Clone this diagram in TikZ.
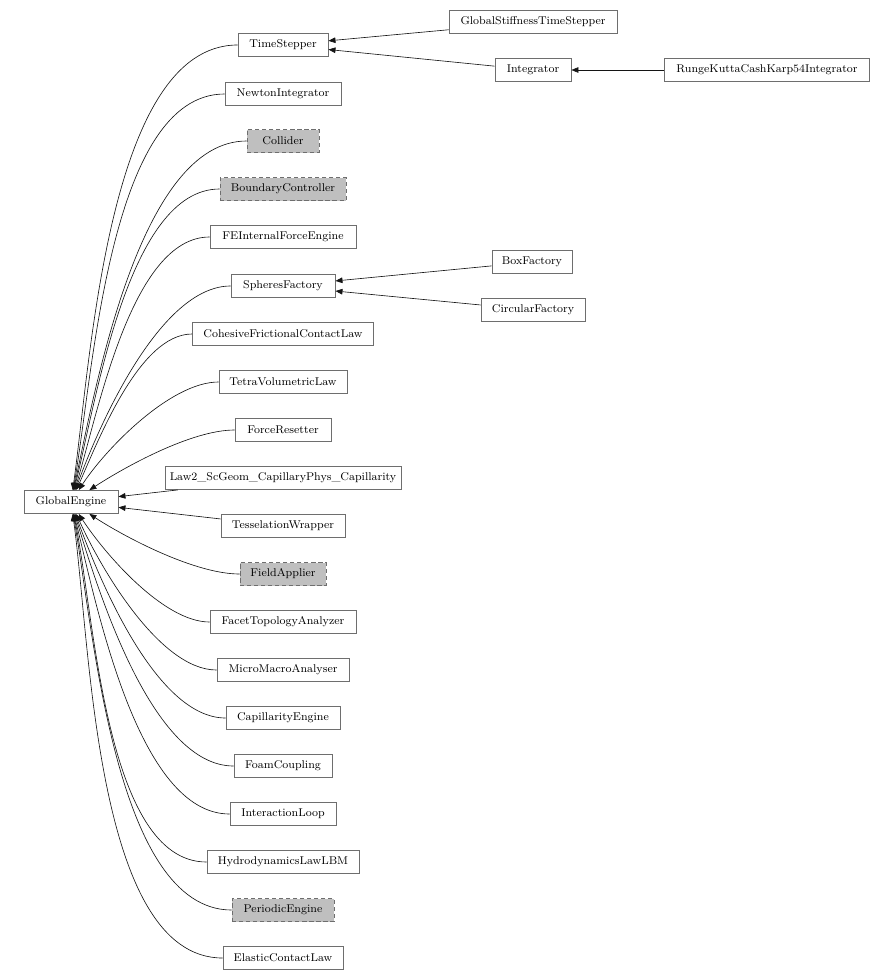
\documentclass[tikz,border=0pt]{standalone}
\usepackage{tikz}
\usetikzlibrary{arrows.meta}
\definecolor{boxcol}{RGB}{110,110,110}
\definecolor{absfill}{RGB}{191,191,191}
\definecolor{edgecol}{RGB}{20,20,20}

\begin{document}
\begin{tikzpicture}[
    x=0.025cm, y=0.025cm,
    cls/.style={draw=boxcol, fill=white, line width=0.6pt, minimum height=0.575cm,
        inner sep=0pt, font=\fontsize{8}{10}\selectfont},
    virt/.style={cls, fill=absfill, dash pattern=on 3pt off 2pt},
    arr/.style={-{Triangle[length=5pt, width=4pt]}, line width=0.45pt, draw=edgecol, looseness=0.7},
]

\path[use as bounding box] (0,0) rectangle (895,-980);

% ════════════════════════════════════════════════════════
% 1. BASE CLASS
% ════════════════════════════════════════════════════════
\node[cls, minimum width=2.35cm] (engine) at (71,-502) {GlobalEngine};

% ════════════════════════════════════════════════════════
% 2. DIRECT SUBCLASSES (one column, 48px apart)
% ════════════════════════════════════════════════════════
\node[cls,  minimum width=2.25cm]  (timestepper) at (283,-45)  {TimeStepper};
\node[cls,  minimum width=2.9cm]   (newton)      at (283,-94)  {NewtonIntegrator};
\node[virt, minimum width=1.8cm]   (collider)    at (283,-141) {Collider};
\node[virt, minimum width=3.15cm]  (boundary)    at (283,-189) {BoundaryController};
\node[cls,  minimum width=3.65cm]  (feinternal)  at (283,-237) {FEInternalForceEngine};
\node[cls,  minimum width=2.6cm]   (spheres)     at (283,-286) {SpheresFactory};
\node[cls,  minimum width=4.525cm] (cohesive)    at (283,-334) {CohesiveFrictionalContactLaw};
\node[cls,  minimum width=3.2cm]   (tetra)       at (283,-382) {TetraVolumetricLaw};
\node[cls,  minimum width=2.4cm]   (resetter)    at (283,-430) {ForceResetter};
\node[cls,  minimum width=5.9cm]   (capillary)   at (283,-478) {Law2\_ScGeom\_CapillaryPhys\_Capillarity};
\node[cls,  minimum width=3.1cm]   (tessel)      at (283,-526) {TesselationWrapper};
\node[virt, minimum width=2.15cm]  (field)       at (283,-574) {FieldApplier};
\node[cls,  minimum width=3.65cm]  (facet)       at (283,-622) {FacetTopologyAnalyzer};
\node[cls,  minimum width=3.3cm]   (micromacro)  at (283,-670) {MicroMacroAnalyser};
\node[cls,  minimum width=2.85cm]  (capeng)      at (283,-718) {CapillarityEngine};
\node[cls,  minimum width=2.45cm]  (foam)        at (283,-766) {FoamCoupling};
\node[cls,  minimum width=2.65cm]  (interloop)   at (283,-814) {InteractionLoop};
\node[cls,  minimum width=3.8cm]   (hydro)       at (283,-862) {HydrodynamicsLawLBM};
\node[virt, minimum width=2.55cm]  (periodic)    at (283,-910) {PeriodicEngine};
\node[cls,  minimum width=3.0cm]   (elastic)     at (283,-958) {ElasticContactLaw};

% ════════════════════════════════════════════════════════
% 3. SECOND AND THIRD LEVEL
% ════════════════════════════════════════════════════════
\node[cls, minimum width=4.2cm]   (gsts)       at (533,-22)  {GlobalStiffnessTimeStepper};
\node[cls, minimum width=1.9cm]   (integrator) at (533,-70)  {Integrator};
\node[cls, minimum width=5.125cm] (rkck)       at (767,-70)  {RungeKuttaCashKarp54Integrator};
\node[cls, minimum width=2.0cm]   (boxfac)     at (532,-262) {BoxFactory};
\node[cls, minimum width=2.6cm]   (circfac)    at (533,-310) {CircularFactory};

% ── Inheritance arrows (child -> parent)
\draw[arr] (gsts) -- (timestepper);
\draw[arr] (integrator) -- (timestepper);
\draw[arr] (rkck) -- (integrator);
\draw[arr] (boxfac) -- (spheres);
\draw[arr] (circfac) -- (spheres);

% ── Upper half, curving down onto GlobalEngine
\draw[arr] (timestepper.west) to[out=180, in=82] (engine);
\draw[arr] (newton.west)      to[out=180, in=80] (engine);
\draw[arr] (collider.west)    to[out=180, in=78] (engine);
\draw[arr] (boundary.west)    to[out=180, in=76] (engine);
\draw[arr] (feinternal.west)  to[out=180, in=73] (engine);
\draw[arr] (spheres.west)     to[out=180, in=70] (engine);
\draw[arr] (cohesive.west)    to[out=180, in=66] (engine);
\draw[arr] (tetra.west)       to[out=180, in=57] (engine);
\draw[arr] (resetter.west)    to[out=180, in=33] (engine);

% ── Nearly level ones are straight
\draw[arr] (capillary) -- (engine);
\draw[arr] (tessel) -- (engine);

% ── Lower half, curving up onto GlobalEngine
\draw[arr] (field.west)      to[out=180, in=-33] (engine);
\draw[arr] (facet.west)      to[out=180, in=-57] (engine);
\draw[arr] (micromacro.west) to[out=180, in=-66] (engine);
\draw[arr] (capeng.west)     to[out=180, in=-70] (engine);
\draw[arr] (foam.west)       to[out=180, in=-73] (engine);
\draw[arr] (interloop.west)  to[out=180, in=-76] (engine);
\draw[arr] (hydro.west)      to[out=180, in=-78] (engine);
\draw[arr] (periodic.west)   to[out=180, in=-80] (engine);
\draw[arr] (elastic.west)    to[out=180, in=-82] (engine);

\end{tikzpicture}
\end{document}
